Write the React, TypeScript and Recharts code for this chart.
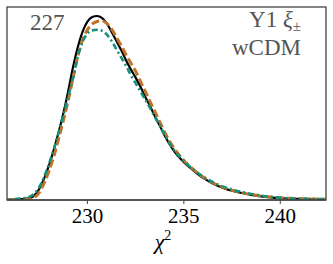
import { LineChart, Line, XAxis, YAxis } from "recharts";

// chi^2 grid and the three normalised curves (black = reference, peak 1)
const CHI2 = [
  225.5, 226.0, 226.5, 227.0, 227.25, 227.5, 227.75, 228.0, 228.25, 228.5, 228.75,
  229.0, 229.25, 229.5, 229.75, 230.0, 230.25, 230.5, 230.75, 231.0, 231.25, 231.5,
  231.75, 232.0, 232.25, 232.5, 232.75, 233.0, 233.25, 233.5, 233.75, 234.0, 234.5,
  235.0, 235.5, 236.0, 236.5, 237.0, 237.5, 238.0, 238.5, 239.0, 239.5, 240.0,
  240.5, 241.0, 241.5, 242.0, 242.5,
];
const BLACK = [
  0.001, 0.002, 0.004, 0.01, 0.025, 0.06, 0.115, 0.185, 0.27, 0.365, 0.47,
  0.59, 0.72, 0.83, 0.915, 0.97, 0.995, 1.0, 0.99, 0.96, 0.915, 0.865,
  0.815, 0.76, 0.71, 0.665, 0.615, 0.56, 0.51, 0.455, 0.405, 0.35, 0.265,
  0.205, 0.16, 0.12, 0.09, 0.067, 0.05, 0.038, 0.028, 0.02, 0.014, 0.01,
  0.008, 0.006, 0.005, 0.004, 0.004,
];
const ORANGE = [
  0.0, 0.001, 0.002, 0.005, 0.014, 0.04, 0.09, 0.155, 0.235, 0.33, 0.43,
  0.54, 0.66, 0.78, 0.87, 0.925, 0.957, 0.97, 0.974, 0.96, 0.93, 0.885,
  0.84, 0.79, 0.745, 0.7, 0.645, 0.59, 0.535, 0.48, 0.425, 0.37, 0.28,
  0.215, 0.165, 0.125, 0.094, 0.07, 0.053, 0.04, 0.03, 0.022, 0.016, 0.012,
  0.009, 0.007, 0.006, 0.005, 0.004,
];
const TEAL = [
  0.001, 0.003, 0.008, 0.018, 0.035, 0.07, 0.125, 0.195, 0.275, 0.365, 0.46,
  0.56, 0.66, 0.78, 0.86, 0.905, 0.922, 0.925, 0.92, 0.9, 0.865, 0.82,
  0.775, 0.73, 0.68, 0.635, 0.59, 0.545, 0.5, 0.45, 0.405, 0.355, 0.27,
  0.212, 0.166, 0.127, 0.097, 0.074, 0.057, 0.044, 0.033, 0.024, 0.017, 0.012,
  0.009, 0.007, 0.006, 0.005, 0.004,
];
const TICKS = [230, 235, 240];

const data = CHI2.map((x, i) => ({ x, black: BLACK[i], orange: ORANGE[i], teal: TEAL[i] }));

const FONT = "'Liberation Serif', serif";
const FRAME = "#444";
const LABEL_GRAY = "#555";

// serif tick label, placed by the axis scale
function SerifTick(props: any) {
  const { x, y, payload } = props;
  return (
    <text x={x} y={y + 15} textAnchor="middle" fontSize={21} fill="#000" fontFamily={FONT}>
      {payload.value}
    </text>
  );
}

export default function App() {
  return (
    <div style={{ position: "absolute", left: 0, top: 0, width: 333, height: 264, background: "#fff" }}>
      <LineChart width={333} height={264} data={data} margin={{ top: 7, right: 7, bottom: 34, left: 7 }}>
        <XAxis
          dataKey="x"
          type="number"
          domain={[225.83, 242.37]}
          allowDataOverflow
          ticks={TICKS}
          height={30}
          tickSize={4}
          tickMargin={4}
          axisLine={{ stroke: FRAME, strokeWidth: 1.3 }}
          tickLine={{ stroke: FRAME, strokeWidth: 1 }}
          tick={<SerifTick />}
        />
        <YAxis hide domain={[0, 1.049]} allowDataOverflow />
        <Line type="monotone" dataKey="black" stroke="#000" strokeWidth={2.2} dot={false} isAnimationActive={false} />
        <Line type="monotone" dataKey="orange" stroke="#c0732b" strokeWidth={3} strokeDasharray="8 3.5" dot={false} isAnimationActive={false} />
        <Line type="monotone" dataKey="teal" stroke="#11927a" strokeWidth={2.6} strokeDasharray="6 3 2 3" dot={false} isAnimationActive={false} />
      </LineChart>
      <svg width={333} height={264} style={{ position: "absolute", left: 0, top: 0, pointerEvents: "none" }}>
        <rect x={7} y={7} width={319} height={193} fill="none" stroke={FRAME} strokeWidth={1.3} />
        <text x={30} y={30} fontSize={23} fill={LABEL_GRAY} fontFamily={FONT}>227</text>
        <text x={301} y={27} fontSize={23} fill={LABEL_GRAY} fontFamily={FONT} textAnchor="end">
          Y1 <tspan fontStyle="italic">ξ</tspan>
          <tspan fontSize={15} dy={4}>±</tspan>
        </text>
        <text x={301} y={55} fontSize={23} fill={LABEL_GRAY} fontFamily={FONT} textAnchor="end">wCDM</text>
        <text x={163} y={249} fontSize={22} fill="#000" fontFamily={FONT} textAnchor="middle">
          <tspan fontStyle="italic">χ</tspan>
          <tspan fontSize={14} dy={-9}>2</tspan>
        </text>
      </svg>
    </div>
  );
}
